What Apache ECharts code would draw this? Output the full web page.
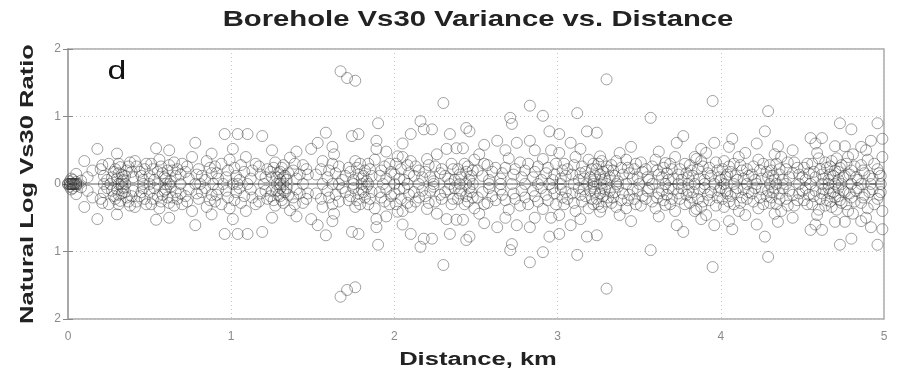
<!DOCTYPE html>
<html>
<head>
<meta charset="utf-8">
<script src="https://cdn.jsdelivr.net/npm/echarts@6/dist/echarts.min.js"></script>
<style>
  html, body { margin: 0; padding: 0; background: #fff; }
  #chart { width: 900px; height: 377px; }
</style>
</head>
<body>
<div id="chart"></div>
<script>
// Borehole pairs: distance (km) and |ln(Vs30 ratio)|. Each pair is plotted
// both ways (a/b and b/a), so every offset appears above and below zero.
const pairOffsets = [
  [0.01,0.04],[0.03,0.06],[0.05,0.03],[0.02,0.08],[0.05,0.15],[0.10,0.34],[0.12,0.10],[0.18,0.52],[0.20,0.22],
  [0.22,0.12],[0.25,0.30],[0.28,0.18],[0.30,0.08],[0.32,0.25],[0.33,0.14],[0.34,0.06],[0.36,0.20],
  [0.38,0.32],[0.40,0.10],[0.42,0.26],[0.44,0.18],[0.46,0.06],[0.48,0.30],
  [0.50,0.12],[0.52,0.22],[0.54,0.53],[0.56,0.36],[0.58,0.16],[0.60,0.08],[0.62,0.28],[0.64,0.20],
  [0.66,0.12],[0.70,0.30],[0.72,0.18],[0.74,0.08],[0.78,0.61],[0.80,0.22],[0.82,0.12],[0.85,0.34],
  [0.88,0.16],[0.90,0.26],[0.92,0.08],[0.96,0.74],[0.98,0.20],[0.99,0.36],
  [1.01,0.52],[1.03,0.12],[1.04,0.74],[1.06,0.28],[1.08,0.18],[1.10,0.74],[1.12,0.08],[1.15,0.30],
  [1.18,0.14],[1.19,0.71],[1.22,0.22],[1.25,0.10],[1.27,0.32],[1.29,0.16],[1.30,0.06],[1.31,0.24],
  [1.32,0.10],[1.33,0.12],[1.36,0.39],[1.38,0.20],[1.40,0.08],[1.44,0.28],[1.47,0.14],
  [1.49,0.52],[1.53,0.61],[1.55,0.22],[1.58,0.76],[1.59,0.10],[1.62,0.30],[1.64,0.16],[1.67,1.67],
  [1.68,0.06],[1.71,1.57],[1.72,0.24],[1.74,0.71],[1.76,1.53],[1.76,0.34],[1.78,0.74],[1.78,0.14],
  [1.80,0.08],[1.82,0.20],[1.84,0.30],[1.86,0.12],[1.89,0.64],[1.89,0.52],[1.90,0.90],[1.92,0.20],
  [1.95,0.08],[1.97,0.30],
  [2.00,0.14],[2.02,0.41],[2.04,0.22],[2.06,0.06],[2.08,0.28],[2.10,0.74],[2.10,0.34],[2.12,0.12],
  [2.15,0.20],[2.16,0.93],[2.18,0.81],[2.20,0.37],[2.22,0.10],[2.23,0.81],[2.25,0.26],[2.28,0.16],
  [2.30,1.20],[2.32,0.52],[2.33,0.08],[2.34,0.74],[2.36,0.22],[2.38,0.53],[2.40,0.14],[2.42,0.53],
  [2.43,0.30],[2.44,0.83],[2.46,0.78],[2.46,0.06],[2.48,0.20],
  [2.52,0.44],[2.54,0.12],[2.57,0.28],[2.60,0.18],[2.63,0.64],[2.65,0.08],[2.68,0.24],[2.71,0.98],
  [2.72,0.89],[2.73,0.14],[2.75,0.61],[2.77,0.32],[2.80,0.20],[2.83,1.16],[2.83,0.64],[2.85,0.10],
  [2.88,0.26],[2.91,1.01],[2.91,0.37],[2.93,0.16],[2.95,0.78],[2.97,0.06],[2.99,0.30],
  [3.01,0.74],[3.01,0.46],[3.03,0.20],[3.05,0.12],[3.08,0.61],[3.10,0.28],[3.12,1.05],[3.14,0.16],
  [3.16,0.08],[3.18,0.78],[3.19,0.36],[3.21,0.22],[3.23,0.12],[3.24,0.76],[3.25,0.30],[3.26,0.41],
  [3.27,0.06],[3.28,0.18],[3.30,1.55],[3.30,0.26],[3.32,0.10],[3.34,0.20],[3.36,0.34],[3.38,0.46],
  [3.40,0.14],[3.43,0.24],[3.46,0.08],[3.48,0.30],
  [3.52,0.18],[3.55,0.10],[3.57,0.98],[3.58,0.26],[3.62,0.14],[3.66,0.31],[3.68,0.06],[3.70,0.22],
  [3.73,0.61],[3.74,0.14],[3.77,0.71],[3.78,0.30],[3.80,0.10],[3.82,0.20],[3.84,0.40],[3.85,0.37],
  [3.87,0.08],[3.89,0.26],[3.92,0.16],[3.95,1.23],[3.96,0.61],[3.97,0.32],[3.99,0.10],
  [4.01,0.22],[4.04,0.14],[4.07,0.67],[4.08,0.30],[4.10,0.06],[4.13,0.20],[4.15,0.46],[4.17,0.12],
  [4.20,0.26],[4.23,0.36],[4.25,0.08],[4.27,0.78],[4.28,0.18],[4.29,1.08],[4.30,0.28],[4.32,0.12],
  [4.33,0.44],[4.35,0.56],[4.36,0.22],[4.38,0.06],[4.41,0.32],[4.44,0.16],[4.47,0.24],
  [4.50,0.10],[4.53,0.30],[4.55,0.68],[4.57,0.18],[4.60,0.38],[4.62,0.68],[4.63,0.08],[4.65,0.24],
  [4.67,0.14],[4.68,0.34],[4.70,0.56],[4.70,0.20],[4.72,0.06],[4.73,0.90],[4.74,0.28],[4.76,0.56],
  [4.76,0.12],[4.78,0.40],[4.80,0.81],[4.80,0.20],[4.83,0.10],[4.86,0.28],[4.88,0.16],[4.90,0.36],
  [4.93,0.08],[4.96,0.90],[4.96,0.22],[4.99,0.67],[4.98,0.12]
];

// Further pairs inside the dense band close to zero
const bandOffsets = [
  [0.08,0.05],[0.15,0.20],[0.21,0.28],[0.24,0.06],[0.27,0.10],[0.29,0.22],[0.30,0.45],[0.31,0.16],[0.31,0.30],
  [0.33,0.04],[0.35,0.12],[0.37,0.26],[0.39,0.18],[0.41,0.34],[0.45,0.12],[0.47,0.22],
  [0.51,0.30],[0.53,0.06],[0.55,0.18],[0.57,0.26],[0.59,0.10],[0.61,0.20],[0.62,0.50],[0.63,0.04],
  [0.65,0.32],[0.67,0.22],[0.69,0.14],[0.73,0.26],[0.76,0.40],[0.79,0.14],[0.84,0.06],[0.87,0.24],
  [0.88,0.45],[0.91,0.16],[0.94,0.30],[0.97,0.10],
  [1.02,0.24],[1.05,0.06],[1.09,0.40],[1.13,0.20],[1.17,0.26],[1.21,0.10],[1.24,0.18],[1.25,0.50],
  [1.26,0.24],[1.28,0.10],[1.30,0.18],[1.32,0.28],[1.34,0.06],[1.35,0.16],[1.39,0.30],[1.40,0.48],
  [1.42,0.14],[1.46,0.22],
  [1.52,0.14],[1.56,0.34],[1.60,0.20],[1.62,0.55],[1.63,0.44],[1.66,0.26],[1.70,0.12],[1.73,0.18],
  [1.75,0.06],[1.77,0.24],[1.79,0.30],[1.81,0.12],[1.83,0.04],[1.85,0.22],[1.88,0.36],[1.91,0.12],
  [1.94,0.26],[1.95,0.48],[1.98,0.18],
  [2.01,0.30],[2.03,0.08],[2.05,0.40],[2.05,0.60],[2.09,0.16],[2.13,0.26],[2.17,0.10],[2.19,0.18],
  [2.21,0.28],[2.24,0.04],[2.26,0.44],[2.29,0.22],[2.31,0.12],[2.35,0.30],[2.37,0.06],[2.39,0.22],
  [2.41,0.10],[2.44,0.18],[2.45,0.26],[2.47,0.12],[2.49,0.36],
  [2.51,0.20],[2.55,0.30],[2.55,0.58],[2.58,0.06],[2.62,0.24],[2.66,0.16],[2.68,0.50],[2.70,0.38],
  [2.74,0.22],[2.78,0.10],[2.82,0.30],[2.86,0.18],[2.86,0.50],[2.90,0.06],[2.94,0.24],[2.96,0.50],
  [2.98,0.14],
  [3.02,0.08],[3.04,0.30],[3.06,0.22],[3.09,0.14],[3.11,0.40],[3.13,0.06],[3.14,0.52],[3.15,0.26],
  [3.17,0.18],[3.20,0.10],[3.22,0.30],[3.22,0.04],[3.24,0.22],[3.26,0.14],[3.27,0.34],[3.29,0.08],
  [3.31,0.20],[3.33,0.28],[3.35,0.12],[3.37,0.04],[3.39,0.24],[3.42,0.36],[3.44,0.16],[3.45,0.55],
  [3.47,0.22],[3.49,0.10],
  [3.51,0.32],[3.54,0.22],[3.56,0.06],[3.60,0.36],[3.61,0.20],[3.62,0.48],[3.64,0.10],[3.65,0.24],
  [3.67,0.16],[3.69,0.30],[3.71,0.08],[3.72,0.40],[3.75,0.22],[3.76,0.06],[3.79,0.16],[3.81,0.28],
  [3.83,0.12],[3.86,0.22],[3.88,0.34],[3.88,0.52],[3.90,0.06],[3.91,0.46],[3.93,0.24],[3.94,0.12],
  [3.98,0.20],
  [4.00,0.06],[4.02,0.34],[4.03,0.10],[4.05,0.26],[4.05,0.55],[4.06,0.18],[4.09,0.12],[4.11,0.40],
  [4.12,0.28],[4.14,0.08],[4.16,0.22],[4.19,0.14],[4.21,0.06],[4.22,0.60],[4.24,0.20],[4.26,0.30],
  [4.29,0.10],[4.31,0.20],[4.33,0.06],[4.34,0.30],[4.36,0.14],[4.37,0.40],[4.40,0.22],[4.42,0.10],
  [4.44,0.50],[4.45,0.32],[4.48,0.14],
  [4.51,0.24],[4.52,0.06],[4.54,0.16],[4.56,0.30],[4.58,0.10],[4.58,0.60],[4.59,0.46],[4.61,0.22],
  [4.62,0.14],[4.64,0.32],[4.66,0.06],[4.67,0.26],[4.69,0.12],[4.71,0.38],[4.72,0.18],[4.73,0.24],
  [4.75,0.10],[4.77,0.30],[4.79,0.14],[4.81,0.44],[4.82,0.26],[4.84,0.06],[4.86,0.55],[4.87,0.20],
  [4.89,0.50],[4.91,0.12],[4.92,0.64],[4.94,0.30],[4.97,0.16],[4.99,0.40]
];

// Pairs with identical Vs30 (ratio of one, log of zero)
const zeroDistances = [
  0.00,0.00,0.01,0.01,0.02,0.02,0.03,0.03,0.04,0.04,0.05,0.05,0.06,
  0.22,0.26,0.31,0.33,0.35,0.46,0.50,0.55,0.60,0.62,0.69,0.78,0.81,0.89,0.95,
  1.01,1.04,1.10,1.20,1.28,1.30,1.32,1.44,1.56,1.62,1.66,1.75,1.80,1.84,1.93,
  2.00,2.08,2.15,2.24,2.34,2.40,2.44,2.48,2.58,2.65,2.72,2.80,2.88,2.95,
  3.02,3.10,3.18,3.22,3.26,3.30,3.36,3.42,3.50,3.58,3.66,3.74,3.80,3.84,3.90,3.96,
  4.02,4.08,4.16,4.22,4.30,4.34,4.40,4.48,4.55,4.62,4.66,4.70,4.74,4.80,4.86,4.92,4.98
];

const xTickLabels = ['0', '1', '2', '3', '4', '5'];
const yTickLabels = ['2', '1', '0', '1', '2'];   // printed from -2 up to 2

const points = [];
pairOffsets.concat(bandOffsets).forEach(([d, v]) => { points.push([d, v]); points.push([d, -v]); });
zeroDistances.forEach(d => points.push([d, 0]));

const chart = echarts.init(document.getElementById('chart'), null, { renderer: 'canvas' });

const font = "'Liberation Sans', Arial, Helvetica, sans-serif";
const frameColor = '#a8a8a8';
const dark = '#222';

// Wide headings: text stretched along its own direction
function heading(text, x, y, size, stretch, rotation) {
  return {
    type: 'text', x: x, y: y, rotation: rotation || 0, scaleX: stretch, scaleY: 1,
    z: 10, silent: true,
    style: {
      text: text, fontFamily: font, fontSize: size, fontWeight: 'bold', fill: dark,
      textAlign: 'center', textVerticalAlign: 'middle'
    }
  };
}

chart.setOption({
  backgroundColor: '#ffffff',
  animation: false,
  graphic: [
    heading('Borehole Vs30 Variance vs. Distance', 478, 20, 22, 1.33),
    heading('Distance, km', 478, 360, 18, 1.42),
    heading('Natural Log Vs30 Ratio', 28, 184, 18, 1.42, Math.PI / 2),
    {
      type: 'text', x: 117, y: 72, scaleX: 1.3, z: 10, silent: true,
      style: {
        text: 'd', fontFamily: font, fontSize: 26, fill: '#111',
        textAlign: 'center', textVerticalAlign: 'middle'
      }
    }
  ],
  grid: {
    left: 68, right: 16, top: 49, bottom: 58,
    show: true, borderColor: frameColor, borderWidth: 1.5, backgroundColor: '#fff'
  },
  xAxis: [
    {
      type: 'value', min: 0, max: 5, interval: 1,
      axisLine: { show: true, lineStyle: { color: frameColor, width: 1.5 } },
      axisTick: { show: true, inside: true, length: 5, lineStyle: { color: '#888' } },
      axisLabel: {
        margin: 12, fontFamily: font, fontSize: 12, color: '#8a8a8a',
        formatter: v => xTickLabels[Math.round(v)]
      },
      splitLine: { show: true, lineStyle: { color: '#c8c8c8', type: [1, 3], width: 1 } }
    },
    {
      type: 'value', min: 0, max: 5, interval: 1, position: 'top',
      axisLine: { show: true, lineStyle: { color: frameColor, width: 1.5 } },
      axisTick: { show: true, inside: true, length: 5, lineStyle: { color: '#888' } },
      axisLabel: { show: false }, splitLine: { show: false }
    }
  ],
  yAxis: [
    {
      type: 'value', min: -2, max: 2, interval: 1,
      axisLine: { show: true, lineStyle: { color: frameColor, width: 1.5 } },
      axisTick: { show: true, inside: true, length: 5, lineStyle: { color: '#888' } },
      axisLabel: {
        margin: 7, fontFamily: font, fontSize: 12, color: '#8a8a8a',
        formatter: v => yTickLabels[Math.round(v) + 2]
      },
      splitLine: { show: true, lineStyle: { color: '#c8c8c8', type: [1, 3], width: 1 } }
    },
    {
      type: 'value', min: -2, max: 2, interval: 1, position: 'right',
      axisLine: { show: true, lineStyle: { color: frameColor, width: 1.5 } },
      axisTick: { show: true, inside: true, length: 5, lineStyle: { color: '#888' } },
      axisLabel: { show: false }, splitLine: { show: false }
    }
  ],
  series: [
    {
      type: 'scatter',
      xAxisIndex: 0, yAxisIndex: 0,
      data: points,
      symbol: 'circle',
      symbolSize: 11,
      clip: false,
      itemStyle: {
        color: 'rgba(0,0,0,0)',
        borderColor: 'rgba(45,45,45,0.55)',
        borderWidth: 1
      },
      emphasis: { disabled: true }
    }
  ]
});
</script>
</body>
</html>
